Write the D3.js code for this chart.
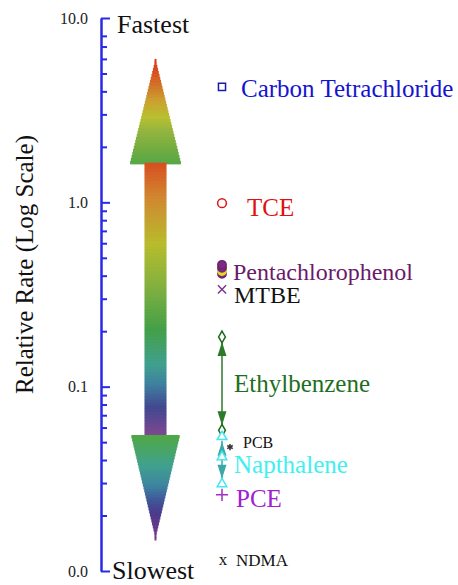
<!DOCTYPE html>
<html>
<head>
<meta charset="utf-8">
<script src="https://cdn.jsdelivr.net/npm/d3@7"></script>
<style>
  body { margin: 0; background: #fff; }
  text { font-family: "Liberation Serif", "Times New Roman", serif; }
</style>
</head>
<body>
<div id="chart"></div>
<script>
// Axis ticks (relative rate, log scale)
const majorTicks = [10, 1, 0.1, 0.01];
const minorTicks = [8, 7, 6, 5, 4, 3, 2,
  0.9, 0.8, 0.7, 0.6, 0.5, 0.4, 0.3, 0.2,
  0.09, 0.08, 0.07, 0.06, 0.05, 0.04, 0.03, 0.02];

// Compounds and their relative rates
const compounds = ["Carbon Tetrachloride", "TCE", "Pentachlorophenol", "MTBE",
  "Ethylbenzene", "PCB", "Napthalene", "PCE", "NDMA"];
const rates = [[4.23], [0.99], [0.41, 0.424, 0.441, 0.458], [0.337],
  [0.186, 0.058], [0.047], [0.0535, 0.0416, 0.0297], [0.0259], [0.0115]];
// compounds shown as a range (high, low)
const rangeNames = ["Ethylbenzene", "Napthalene"];
const rangeValues = [[0.186, 0.058], [0.0535, 0.0297]];

// Big "fastest / slowest" arrow, in rate units
const arrowTip = 6.0, arrowHeadBase = 1.64, arrowTailBase = 0.0547, arrowTail = 0.0151;

const width = 458, height = 585;
const svg = d3.select("#chart").append("svg")
  .attr("width", width)
  .attr("height", height);

const y = d3.scaleLog().domain([0.01, 10]).range([571, 18]);
const axisX = 101;

// ---- the rainbow arrow (drawn as thin stripes) ----
const arrowG = svg.append("g");
const cx = 155.5;
const stripe = 3;

function stripes(y0, y1, halfW, colors) {
  const col = d3.scaleLinear()
    .domain(colors.map(c => c[0]))
    .range(colors.map(c => c[1]))
    .interpolate(d3.interpolateRgb);
  const rows = d3.range(Math.min(y0, y1), Math.max(y0, y1), stripe);
  rows.forEach(r => {
    const t = (r + stripe / 2 - y0) / (y1 - y0);
    const hw = halfW(t);
    arrowG.append("rect")
      .attr("x", cx - hw)
      .attr("y", r)
      .attr("width", hw * 2)
      .attr("height", stripe + 0.5)
      .attr("fill", col(t));
  });
}

// upper head: tip -> base
stripes(y(arrowTip), y(arrowHeadBase), t => Math.max(1, 25.5 * t), [
  [0, "#d83818"], [0.13, "#d85020"], [0.27, "#d07828"], [0.4, "#cca030"],
  [0.56, "#b8c030"], [0.71, "#90b440"], [0.88, "#70ac40"], [1, "#58a848"]]);
// shaft
stripes(y(arrowHeadBase), y(arrowTailBase), t => 11, [
  [0, "#d84e20"], [0.13, "#d08830"], [0.3, "#b8bc2c"], [0.46, "#80b040"],
  [0.61, "#44a046"], [0.74, "#40a08e"], [0.81, "#3f82a0"], [0.9, "#424890"], [1, "#7e4890"]]);
// lower head: base -> tip
stripes(y(arrowTailBase), y(arrowTail), t => Math.max(1, 24.5 * (1 - t)), [
  [0, "#50a844"], [0.31, "#40a090"], [0.5, "#3e82a0"], [0.63, "#405898"],
  [0.76, "#4a3a8c"], [1, "#7a3a88"]]);

// ---- y axis ----
const axisColor = "#2a2ae6";
const majorAxis = d3.axisLeft(y)
  .tickValues(majorTicks)
  .tickFormat(d3.format(".1f"))
  .tickSizeInner(-9)
  .tickSizeOuter(0)
  .tickPadding(13);
const minorAxis = d3.axisLeft(y)
  .tickValues(minorTicks)
  .tickFormat("")
  .tickSizeInner(-6)
  .tickSizeOuter(0);

const gMinor = svg.append("g").attr("transform", `translate(${axisX},0)`).call(minorAxis);
const gMajor = svg.append("g").attr("transform", `translate(${axisX},0)`).call(majorAxis);
[gMinor, gMajor].forEach(g => {
  g.attr("font-family", "'Liberation Serif', serif");
  g.select(".domain").attr("stroke", axisColor).attr("stroke-width", 2);
  g.selectAll(".tick line").attr("stroke", axisColor).attr("stroke-width", 2);
});
gMajor.selectAll(".tick text")
  .style("font-size", "16px")
  .attr("fill", "#222");

svg.append("text")
  .attr("transform", `translate(33,${(y(10) + y(0.01)) / 2 - 30}) rotate(-90)`)
  .attr("text-anchor", "middle")
  .style("font-size", "25px")
  .attr("fill", "#111")
  .text("Relative Rate (Log Scale)");

svg.append("text").attr("x", 117).attr("y", 33)
  .style("font-size", "26px").attr("fill", "#111").text("Fastest");
svg.append("text").attr("x", 112).attr("y", 579)
  .style("font-size", "26px").attr("fill", "#111").text("Slowest");

// ---- compound markers ----
const mx = 222;
const markerStyle = {
  "Carbon Tetrachloride": { sym: d3.symbolSquare, size: 50, stroke: "#1a1aa8", fill: "none" },
  "TCE": { sym: d3.symbolCircle, size: 60, stroke: "#e01414", fill: "none" },
  "Pentachlorophenol": { sym: d3.symbolCircle, size: 55, stroke: "#6e2274", fill: "#7a2a82" },
  "MTBE": { sym: d3.symbolX, size: 45, stroke: "#7a3a8a", fill: "none" },
  "Ethylbenzene": { sym: d3.symbolDiamond, size: 40, stroke: "#1a6a1a", fill: "#fff" },
  "PCB": { sym: d3.symbolAsterisk, size: 28, stroke: "#333", fill: "none", dx: 8 },
  "Napthalene": { sym: d3.symbolTriangle, size: 40, stroke: "#40e8f0", fill: "#fff" },
  "PCE": { sym: d3.symbolPlus, size: 50, stroke: "#a030c0", fill: "none" },
  "NDMA": { text: "x", stroke: "#111" }
};
const labelStyle = {
  "Carbon Tetrachloride": { x: 241, dy: 10, size: 25, color: "#1414d0" },
  "TCE": { x: 247, dy: 13, size: 25, color: "#e01010" },
  "Pentachlorophenol": { x: 233, dy: 6, size: 24, color: "#6a1a6a" },
  "MTBE": { x: 234, dy: 14, size: 24, color: "#111" },
  "Ethylbenzene": { x: 234, dy: 55, size: 25, color: "#1e6e1e" },
  "PCB": { x: 243, dy: 1, size: 16, color: "#111" },
  "Napthalene": { x: 234, dy: 36, size: 25, color: "#40f0f0" },
  "PCE": { x: 236, dy: 12, size: 25, color: "#a020d0" },
  "NDMA": { x: 236, dy: 6, size: 17, color: "#111" }
};

// range arrows (drawn under the end markers)
const rangeColors = { "Ethylbenzene": "#2d7a2d", "Napthalene": "#3aa8a8" };
rangeNames.forEach((name, i) => {
  const [hi, lo] = rangeValues[i];
  const c = rangeColors[name];
  const yTop = y(hi), yBot = y(lo);
  svg.append("line")
    .attr("x1", mx).attr("x2", mx)
    .attr("y1", yTop + 4).attr("y2", yBot - 4)
    .attr("stroke", c).attr("stroke-width", 1.5);
  const len = Math.min(14, (yBot - yTop) / 3);
  svg.append("path")
    .attr("d", `M${mx},${yTop + 5} L${mx - 4.5},${yTop + 5 + len} L${mx + 4.5},${yTop + 5 + len}Z`)
    .attr("fill", c);
  svg.append("path")
    .attr("d", `M${mx},${yBot - 5} L${mx - 4.5},${yBot - 5 - len} L${mx + 4.5},${yBot - 5 - len}Z`)
    .attr("fill", c);
});

compounds.forEach((name, i) => {
  const st = markerStyle[name];
  rates[i].forEach((v, j) => {
    if (st.text) {
      svg.append("text").attr("x", mx + 1).attr("y", y(v) + 5)
        .attr("text-anchor", "middle").style("font-size", "17px")
        .attr("fill", st.stroke).text(st.text);
      return;
    }
    let fill = st.fill, stroke = st.stroke;
    // one of the overlapping pentachlorophenol points is yellow
    if (name === "Pentachlorophenol" && j === 1) { fill = "#e8d820"; stroke = "#e8d820"; }
    svg.append("path")
      .attr("transform", `translate(${mx + (st.dx || 0)},${y(v)})`)
      .attr("d", d3.symbol(st.sym, st.size)())
      .attr("fill", fill)
      .attr("stroke", stroke)
      .attr("stroke-width", 1.5);
  });
  const ls = labelStyle[name];
  svg.append("text")
    .attr("x", ls.x)
    .attr("y", y(rates[i][0]) + ls.dy)
    .style("font-size", ls.size + "px")
    .attr("fill", ls.color)
    .text(name);
});
</script>
</body>
</html>
